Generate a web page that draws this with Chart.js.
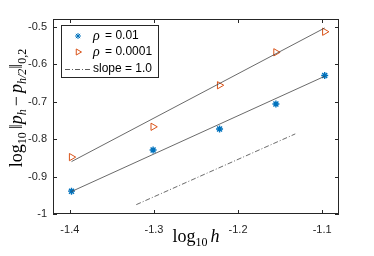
<!DOCTYPE html>
<html>
<head>
<meta charset="utf-8">
<script src="https://cdn.jsdelivr.net/npm/chart.js@4.4.1/dist/chart.umd.min.js"></script>
<style>
  html, body { margin: 0; padding: 0; background: #fff; }
  #wrap { width: 374px; height: 256px; }
</style>
</head>
<body>
<div id="wrap"><canvas id="c" width="374" height="256"></canvas></div>
<script>
// data
const logH = [-1.398, -1.301, -1.222, -1.155, -1.097];
const errRho1 = [-0.939, -0.829, -0.773, -0.706, -0.630];
const errRho2 = [-0.848, -0.767, -0.656, -0.568, -0.513];
const fitRho1 = [[-1.398, -0.940], [-1.097, -0.632]];
const fitRho2 = [[-1.398, -0.860], [-1.097, -0.503]];
const slopeRef = [[-1.321, -0.975], [-1.132, -0.786]];
const xTicks = [-1.4, -1.3, -1.2, -1.1];
const yTicks = [-1, -0.9, -0.8, -0.7, -0.6, -0.5];

const blue = 'rgb(0,114,189)';
const orange = 'rgb(217,83,25)';
const axisCol = '#262626';

const pts = (xs, ys) => xs.map((x, i) => ({ x: x, y: ys[i] }));
const seg = (p) => p.map(([x, y]) => ({ x: x, y: y }));

// 轴框与内侧刻度
const boxPlugin = {
  id: 'box',
  afterDraw(chart) {
    const { ctx, chartArea: a, scales } = chart;
    ctx.save();
    ctx.strokeStyle = axisCol;
    ctx.lineWidth = 1;
    ctx.strokeRect(a.left + 0.5, a.top + 0.5, a.right - a.left - 1, a.bottom - a.top - 1);
    ctx.beginPath();
    xTicks.forEach(v => {
      const x = Math.round(scales.x.getPixelForValue(v)) + 0.5;
      ctx.moveTo(x, a.bottom); ctx.lineTo(x, a.bottom - 4);
      ctx.moveTo(x, a.top); ctx.lineTo(x, a.top + 4);
    });
    yTicks.forEach(v => {
      const y = Math.round(scales.y.getPixelForValue(v)) + 0.5;
      ctx.moveTo(a.left, y); ctx.lineTo(a.left + 4, y);
      ctx.moveTo(a.right, y); ctx.lineTo(a.right - 4, y);
    });
    ctx.stroke();
    ctx.restore();
  }
};

// 画带下标的文本
function drawRich(ctx, parts, x, y) {
  let cx = x;
  parts.forEach(p => {
    ctx.font = p.font;
    ctx.fillText(p.t, cx, y + (p.dy || 0));
    cx += ctx.measureText(p.t).width + (p.gap || 0);
  });
  return cx - x;
}
function richWidth(ctx, parts) {
  let w = 0;
  parts.forEach(p => { ctx.font = p.font; w += ctx.measureText(p.t).width + (p.gap || 0); });
  return w;
}

const serif = '"Liberation Serif", "DejaVu Serif", serif';
const lbl = '18px ' + serif;
const sub = '12px ' + serif;
const it = 'italic 18px ' + serif;
const itSub = 'italic 12px ' + serif;

const labelPlugin = {
  id: 'labels',
  afterDraw(chart) {
    const { ctx, chartArea: a } = chart;
    ctx.save();
    ctx.fillStyle = '#000';
    ctx.textBaseline = 'alphabetic';
    // x label
    const xParts = [
      { t: 'log', font: lbl }, { t: '10', font: sub, dy: 4, gap: 3 }, { t: 'h', font: it }
    ];
    const xw = richWidth(ctx, xParts);
    drawRich(ctx, xParts, 196 - xw / 2, 242);
    // y label
    const yParts = [
      { t: 'log', font: lbl }, { t: '10', font: sub, dy: 4, gap: 3 },
      { t: '‖', font: lbl, gap: 0 }, { t: 'p', font: it }, { t: 'h', font: itSub, dy: 4, gap: 3 },
      { t: '−', font: lbl, gap: 3 }, { t: 'p', font: it }, { t: 'h/2', font: itSub, dy: 4 },
      { t: '‖', font: lbl }, { t: '0,2', font: sub, dy: 4 }
    ];
    const yw = richWidth(ctx, yParts);
    ctx.translate(22, 108);
    ctx.rotate(-Math.PI / 2);
    drawRich(ctx, yParts, -yw / 2, 0);
    ctx.restore();

    // 图例
    ctx.save();
    const lx = 61, ly = 25, lw = 97, lh = 52;
    ctx.fillStyle = '#fff';
    ctx.fillRect(lx, ly, lw, lh);
    ctx.strokeStyle = axisCol;
    ctx.lineWidth = 1;
    ctx.strokeRect(lx + 0.5, ly + 0.5, lw, lh);
    ctx.fillStyle = '#000';
    ctx.textBaseline = 'middle';
    const sans = '12px "Liberation Sans", Arial, sans-serif';
    const rows = [
      { y: 36, parts: [{ t: 'ρ', font: 'italic 14px ' + serif, gap: 2 }, { t: ' = 0.01', font: sans }] },
      { y: 52, parts: [{ t: 'ρ', font: 'italic 14px ' + serif, gap: 2 }, { t: ' = 0.0001', font: sans }] },
      { y: 69, parts: [{ t: 'slope = 1.0', font: sans }] }
    ];
    rows.forEach(r => drawRich(ctx, r.parts, 93, r.y));
    // markers
    ctx.strokeStyle = blue; ctx.fillStyle = blue;
    Chart.helpers.drawPoint(ctx, { pointStyle: 'star', radius: 3, borderWidth: 1.2 }, 78, 36);
    ctx.strokeStyle = orange;
    ctx.fillStyle = '#fff';
    ctx.lineWidth = 1;
    Chart.helpers.drawPoint(ctx, { pointStyle: 'triangle', radius: 3.5, rotation: 90, borderWidth: 1 }, 78, 52);
    ctx.strokeStyle = '#333';
    ctx.lineWidth = 0.8;
    ctx.setLineDash([5, 2, 1, 2]);
    ctx.beginPath(); ctx.moveTo(65, 69.5); ctx.lineTo(90, 69.5); ctx.stroke();
    ctx.restore();
  }
};

const lineStyle = { showLine: true, borderColor: '#444', borderWidth: 0.8, pointRadius: 0, fill: false };

new Chart(document.getElementById('c'), {
  type: 'scatter',
  data: {
    datasets: [
      Object.assign({ data: seg(fitRho2) }, lineStyle),
      Object.assign({ data: seg(fitRho1) }, lineStyle),
      Object.assign({ data: seg(slopeRef), borderDash: [5, 2, 1, 2] }, lineStyle),
      {
        label: 'ρ = 0.01', data: pts(logH, errRho1),
        pointStyle: 'star', pointRadius: 3.5, borderColor: blue, backgroundColor: blue, pointBorderWidth: 1.4
      },
      {
        label: 'ρ = 0.0001', data: pts(logH, errRho2),
        pointStyle: 'triangle', pointRotation: 90, pointRadius: 4.2,
        borderColor: orange, backgroundColor: 'rgba(0,0,0,0)', pointBorderWidth: 1
      }
    ]
  },
  options: {
    responsive: false,
    animation: false,
    layout: { padding: { left: 0, right: 35, top: 19, bottom: 0 } },
    plugins: { legend: { display: false }, tooltip: { enabled: false } },
    scales: {
      x: {
        type: 'linear', min: -1.42, max: -1.08,
        grid: { display: false, drawTicks: false },
        border: { display: false },
        afterBuildTicks: s => { s.ticks = xTicks.map(v => ({ value: v })); },
        afterFit: s => { s.height = 42; },
        ticks: {
          padding: 9, color: axisCol,
          font: { family: '"Liberation Sans", Arial, sans-serif', size: 11 },
          callback: v => String(Math.round(v * 10) / 10)
        }
      },
      y: {
        type: 'linear', min: -1, max: -0.479,
        grid: { display: false, drawTicks: false },
        border: { display: false },
        afterBuildTicks: s => { s.ticks = yTicks.map(v => ({ value: v })); },
        afterFit: s => { s.width = 53; },
        ticks: {
          padding: 6, color: axisCol,
          font: { family: '"Liberation Sans", Arial, sans-serif', size: 11 },
          callback: v => String(Math.round(v * 10) / 10)
        }
      }
    }
  },
  plugins: [boxPlugin, labelPlugin]
});
</script>
</body>
</html>
